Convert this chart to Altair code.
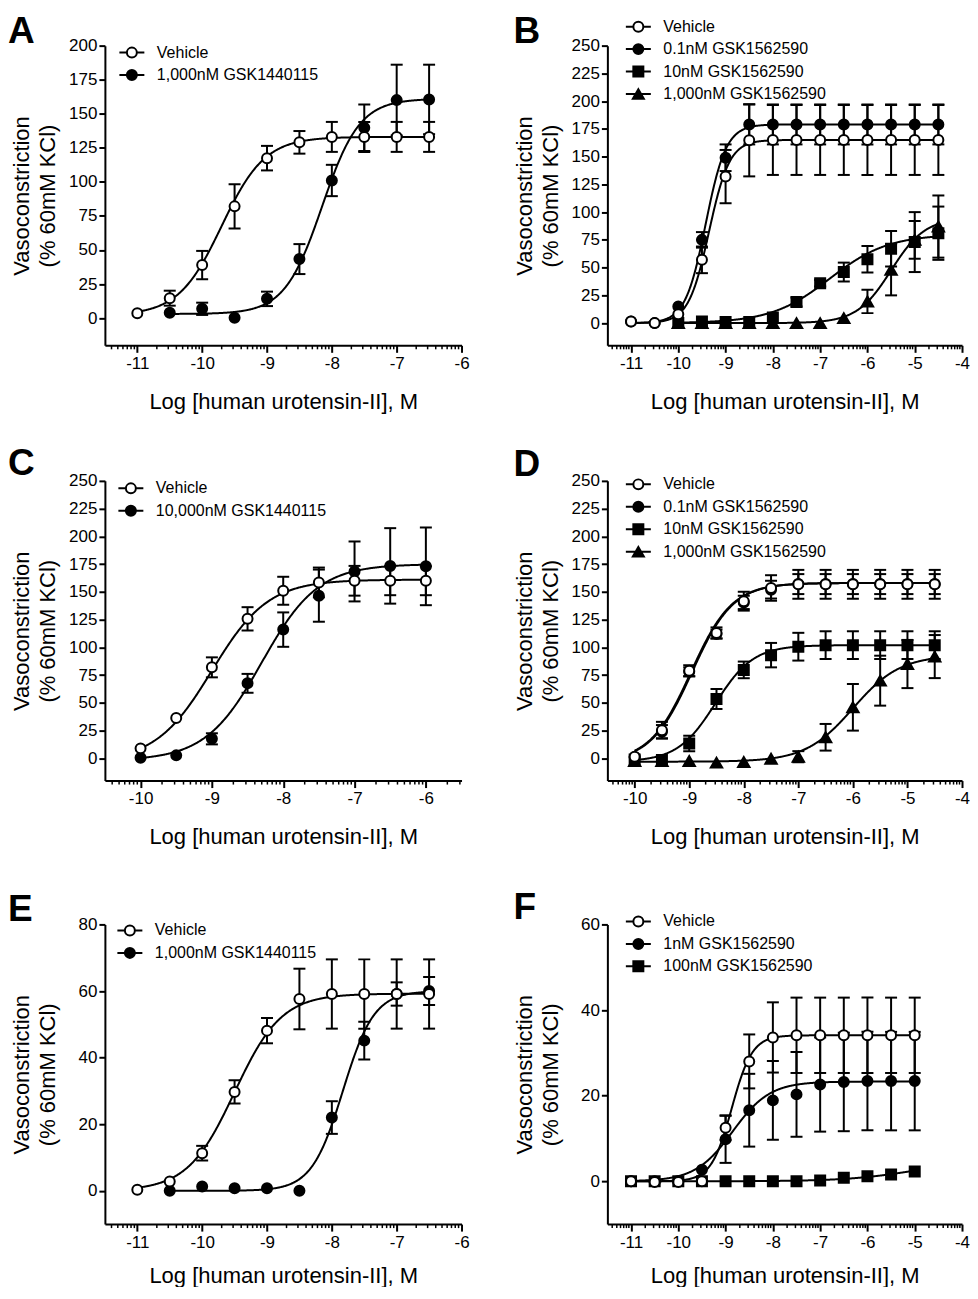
import math
import altair as alt
import pandas as pd

FONT = "Liberation Sans"
XTITLE = "Log [human urotensin-II], M"
YTITLE = ["Vasoconstriction", "(% 60mM KCl)"]
W_LEFT, W_RIGHT, H = 357, 355, 300

# ---------------- Panel A ----------------
A_LABELS = ["Vehicle", "1,000nM GSK1440115"]
A_VEH_X = [-11, -10.5, -10, -9.5, -9, -8.5, -8, -7.5, -7, -6.5]
A_VEH_Y = [3.6, 14.6, 38.9, 82, 117.4, 129, 133, 133, 133, 133]
A_VEH_E = [0, 5.5, 10.4, 16.3, 9, 8.3, 11, 11, 11, 11]
A_ANT_X = [-10.5, -10, -9.5, -9, -8.5, -8, -7.5, -7, -6.5]
A_ANT_Y = [3.9, 6.8, 0.2, 14.1, 43.3, 101, 139.7, 160, 160.5]
A_ANT_E = [0, 4.5, 0, 5.3, 11, 11.5, 17, 26, 25.5]
# fitted curve: bottom, top, logEC50, hill slope, first x, last x
A_VEH_FIT = [2, 133, -9.7, 1.3, -11, -6.5]
A_ANT_FIT = [3, 161, -8.15, 1.5, -10.5, -6.5]

# ---------------- Panel B ----------------
B_LABELS = ["Vehicle", "0.1nM GSK1562590", "10nM GSK1562590", "1,000nM GSK1562590"]
B_X = [-11, -10.5, -10, -9.5, -9, -8.5, -8, -7.5, -7, -6.5, -6, -5.5, -5, -4.5]
B_VEH_Y = [1.5, 0, 8, 57, 132, 164.7, 165, 165, 165, 165, 165, 165, 165, 165]
B_VEH_E = [0, 0, 0, 12, 24, 32.5, 31.5, 31.5, 31.5, 31.5, 31.5, 31.5, 31.5, 31.5]
B_P01_Y = [1.5, 0, 15, 75, 149, 179, 179, 179, 179, 179, 179, 179, 179, 179]
B_P01_E = [0, 0, 0, 7, 12, 18, 18, 18, 18, 18, 18, 18, 18, 18]
B_P10_X = [-10, -9.5, -9, -8.5, -8, -7.5, -7, -6.5, -6, -5.5, -5, -4.5]
B_P10_Y = [0, 1.5, 1, 1, 5, 19, 36, 46, 57.5, 67, 73, 81]
B_P10_E = [0, 0, 0, 0, 0, 4, 3, 8.5, 12, 16, 27, 24]
B_P1000_X = [-10, -9.5, -9, -8.5, -8, -7.5, -7, -6.5, -6, -5.5, -5, -4.5]
B_P1000_Y = [0, 0, 0, 0, 0, 0, 0, 4.5, 19.5, 48, 75, 87]
B_P1000_E = [0, 0, 0, 0, 0, 0, 0, 0, 10.5, 23, 17, 28]
B_VEH_FIT = [0, 165, -9.35, 2.0, -11, -4.5]
B_P01_FIT = [0, 179, -9.42, 2.0, -11, -4.5]
B_P10_FIT = [0, 80, -6.8, 0.7, -10, -4.5]
B_P1000_FIT = [0, 95, -5.5, 1.2, -10, -4.5]

# ---------------- Panel C ----------------
C_LABELS = ["Vehicle", "10,000nM GSK1440115"]
C_X = [-10, -9.5, -9, -8.5, -8, -7.5, -7, -6.5, -6]
C_VEH_Y = [9, 36.4, 82, 125.7, 151, 158.5, 160, 160, 160]
C_VEH_E = [0, 0, 9, 10.5, 12.6, 13.4, 13.4, 13, 13]
C_ANT_Y = [0.6, 2.7, 17.6, 67.6, 116, 146.6, 168.4, 173.4, 173]
C_ANT_E = [0, 0, 5, 8.5, 15.5, 23.5, 27, 34, 35]
C_VEH_FIT = [-3, 161, -9.0, 1.1, -10, -6]
C_ANT_FIT = [-2, 175, -8.3, 1.1, -10, -6]

# ---------------- Panel D ----------------
D_LABELS = ["Vehicle", "0.1nM GSK1562590", "10nM GSK1562590", "1,000nM GSK1562590"]
D_X = [-10, -9.5, -9, -8.5, -8, -7.5, -7, -6.5, -6, -5.5, -5, -4.5]
D_VEH_Y = [1.5, 25.4, 78.9, 113, 141.6, 153.5, 156.8, 156.8, 156.8, 156.8, 156.8, 156.8]
D_VEH_E = [0, 7.5, 5, 5, 8.5, 11.5, 13, 13, 13, 13, 13, 13]
D_P01_Y = [1.0, 24, 78, 112, 140.5, 152, 157, 157, 157, 157, 157, 157]
D_P01_E = [0, 6, 4, 4, 6, 8, 9, 9, 9, 9, 9, 9]
D_P10_Y = [-1, -1.5, 13.4, 53.5, 79.7, 93, 100.6, 102, 102, 102, 102, 102]
D_P10_E = [0, 0, 7, 9, 7.5, 11, 12.5, 12.5, 12.5, 12.5, 12.5, 12.5]
D_P1000_Y = [-2.4, -2.4, -2.4, -3.9, -3.3, -0.3, 1.5, 19, 46, 70, 85, 91.7]
D_P1000_E = [0, 0, 0, 0, 0, 0, 5, 12, 21, 22.5, 21.7, 19.4]
D_VEH_FIT = [-3, 158, -8.95, 1.15, -10, -4.5]
D_P01_FIT = [-3, 158, -8.97, 1.15, -10, -4.5]
D_P10_FIT = [-3, 102, -8.52, 1.25, -10, -4.5]
D_P1000_FIT = [-3, 93, -6.0, 1.0, -10, -4.5]

# ---------------- Panel E ----------------
E_LABELS = ["Vehicle", "1,000nM GSK1440115"]
E_VEH_X = [-11, -10.5, -10, -9.5, -9, -8.5, -8, -7.5, -7, -6.5]
E_VEH_Y = [0.3, 2.8, 11.3, 29.7, 48.1, 57.6, 59.1, 59.1, 59.1, 59.1]
E_VEH_E = [0, 0, 2.2, 3.5, 3.8, 9.1, 10.4, 10.4, 10.4, 10.4]
E_ANT_X = [-10.5, -10, -9.5, -9, -8.5, -8, -7.5, -7, -6.5]
E_ANT_Y = [0, 1.3, 0.8, 0.8, 0, 22, 45.1, 59.1, 60]
E_ANT_E = [0, 0, 0, 0, 0, 4.9, 5.7, 3.5, 4.2]
E_VEH_FIT = [0, 59.2, -9.5, 1.2, -11, -6.5]
E_ANT_FIT = [0, 60, -7.83, 1.8, -10.5, -6.5]

# ---------------- Panel F ----------------
F_LABELS = ["Vehicle", "1nM GSK1562590", "100nM GSK1562590"]
F_X = [-11, -10.5, -10, -9.5, -9, -8.5, -8, -7.5, -7, -6.5, -6, -5.5, -5]
F_VEH_Y = [0, -0.15, -0.15, 0, 12.5, 28, 33.6, 34.1, 34.1, 34.1, 34.1, 34.1, 34.1]
F_VEH_E = [0, 0, 0, 0, 2.9, 6.3, 8.2, 8.8, 8.8, 8.8, 8.8, 8.8, 8.8]
F_P1_Y = [0, 0, 0, 2.7, 9.8, 16.6, 18.9, 20.3, 22.6, 23.2, 23.4, 23.4, 23.4]
F_P1_E = [0, 0, 0, 0, 5.5, 8.5, 9.2, 9.9, 11, 11.5, 11.5, 11.5, 11.5]
F_P100_Y = [0, 0, 0, 0, 0, 0, 0, 0, 0.2, 0.8, 1.2, 1.6, 2.3]
F_P100_E = [0, 0, 0, 0, 0, 0, 0, 0, 0, 0, 0, 0, 0]
F_VEH_FIT = [0, 34.1, -8.87, 2.0, -11, -5]
F_P1_FIT = [0, 23.3, -8.85, 1.1, -11, -5]
F_P100_FIT = [0, 5, -5.0, 0.6, -11, -5]

# ---------------- styling ----------------
MARKERS = {
    "open": dict(shape="circle", fill="white", size=100),
    "dot": dict(shape="circle", fill="black", size=100),
    "square": dict(shape="square", fill="black", size=100),
    "triangle": dict(shape="triangle-up", fill="black", size=130),
}
CIRC = ("M-1,0C-1,-0.5523,-0.5523,-1,0,-1C0.5523,-1,1,-0.5523,1,0"
        "C1,0.5523,0.5523,1,0,1C-0.5523,1,-1,0.5523,-1,0Z")
LEG_PATHS = {
    "open": "M-2.5,0L-1,0M1,0L2.5,0" + CIRC,
    "dot": "M-2.5,0L-1,0M1,0L2.5,0" + CIRC,
    "square": "M-2.5,0L-1,0M1,0L2.5,0M-1,-1L1,-1L1,1L-1,1Z",
    "triangle": "M-2.5,0L-0.5,0M0.5,0L2.5,0M0,-0.95L1.1,0.95L-1.1,0.95Z",
}


def minor_positions(lo, hi):
    out = []
    for d in range(math.floor(lo) - 1, math.ceil(hi) + 1):
        for k in range(2, 10):
            v = d + math.log10(k)
            if lo <= v <= hi:
                out.append(round(v, 5))
    return out


def panel(letter, series, xdom, ydom, xvals, yvals, leg_xy, let_xy, ytp, width, xtp=20):
    xs = alt.Scale(domain=xdom, nice=False, zero=False)
    ys = alt.Scale(domain=ydom, nice=False, zero=False)
    xaxis = alt.Axis(values=xvals, title=XTITLE, labelExpr="'' + datum.value",
                     grid=False, labelFlush=False, tickSize=7, tickWidth=2,
                     domainWidth=2, labelPadding=3, titlePadding=xtp)
    yaxis = alt.Axis(values=yvals, title=YTITLE, grid=False, tickSize=6,
                     tickWidth=2, domainWidth=2, labelPadding=2,
                     titlePadding=ytp, titleLineHeight=26)

    def X(f):
        return alt.X(f, type="quantitative", scale=xs, axis=xaxis)

    def Y(f):
        return alt.Y(f, type="quantitative", scale=ys, axis=yaxis)

    layers = []
    # fitted curves
    for s in series:
        b, t, ec, h, x0, x1 = s["fit"]
        expr = f"({b}) + (({t}) - ({b})) / (1 + pow(10, ({h}) * (({ec}) - datum.x)))"
        layers.append(
            alt.Chart(alt.sequence(x0, x1 + 0.005, 0.01, as_="x"))
            .transform_calculate(y=expr)
            .mark_line(color="black", strokeWidth=2)
            .encode(x=X("x"), y=Y("y"))
        )
    rows, caps = [], []
    for s in series:
        for x, y, e in zip(s["x"], s["y"], s["e"]):
            rows.append(dict(series=s["label"], x=x, y=y, lo=y - e, hi=y + e, e=e))
            if e > 0:
                caps.append(dict(x=x, v=y - e))
                caps.append(dict(x=x, v=y + e))
    df = pd.DataFrame(rows)
    dfe = df[df["e"] > 0]
    layers.append(
        alt.Chart(dfe).mark_rule(color="black", strokeWidth=2)
        .encode(x=X("x"), y=Y("lo"), y2=alt.Y2("hi"))
    )
    layers.append(
        alt.Chart(pd.DataFrame(caps)).mark_tick(orient="horizontal", size=12,
                                                thickness=2, color="black", opacity=1)
        .encode(x=X("x"), y=Y("v"))
    )
    for s in reversed(series):
        m = MARKERS[s["marker"]]
        layers.append(
            alt.Chart(df[df["series"] == s["label"]])
            .mark_point(shape=m["shape"], filled=True, fill=m["fill"], stroke="black",
                        strokeWidth=2, size=m["size"], opacity=1)
            .encode(x=X("x"), y=Y("y"))
        )
    # legend (line + marker symbols)
    labels = [s["label"] for s in series]
    paths = [LEG_PATHS[s["marker"]] for s in series]
    fills = [MARKERS[s["marker"]]["fill"] for s in series]
    sx, sy = leg_xy
    leg = alt.Legend(title=None, orient="none", legendX=sx - 6, legendY=sy - 8,
                     labelFont=FONT, labelFontSize=16, labelColor="black",
                     labelOffset=17, labelLimit=500, rowPadding=4.5,
                     symbolSize=100, symbolStrokeWidth=2, symbolStrokeColor="black",
                     padding=0)
    layers.append(
        alt.Chart(df).transform_filter("false")
        .mark_point(filled=True, size=100, stroke="black", strokeWidth=2, opacity=1)
        .encode(
            x=X("x"), y=Y("y"),
            shape=alt.Shape("series:N", scale=alt.Scale(domain=labels, range=paths), legend=leg),
            fill=alt.Fill("series:N", scale=alt.Scale(domain=labels, range=fills), legend=leg),
            stroke=alt.Stroke("series:N", scale=alt.Scale(domain=labels, range=["black"] * len(labels)), legend=leg),
        )
    )
    # minor log ticks on x axis
    layers.append(
        alt.Chart(pd.DataFrame({"x": minor_positions(xdom[0], xdom[1])}))
        .mark_rule(color="black", strokeWidth=1.5)
        .encode(x=X("x"), y=alt.value(H), y2=alt.value(H + 4))
    )
    # panel letter
    lx, ly = let_xy
    layers.append(
        alt.Chart(pd.DataFrame({"t": [letter]}))
        .mark_text(align="left", baseline="alphabetic", font=FONT, fontSize=37,
                   fontWeight="bold", color="black")
        .encode(text="t:N", x=alt.value(lx), y=alt.value(ly))
    )
    return (alt.layer(*layers)
            .resolve_scale(shape="independent", fill="independent", stroke="independent")
            .properties(width=width, height=H))


def S(label, x, y, e, fit, marker):
    return dict(label=label, x=x, y=y, e=e, fit=fit, marker=marker)


pA = panel("A", [S(A_LABELS[0], A_VEH_X, A_VEH_Y, A_VEH_E, A_VEH_FIT, "open"),
                 S(A_LABELS[1], A_ANT_X, A_ANT_Y, A_ANT_E, A_ANT_FIT, "dot")],
           [-11.5, -6], [-20, 200], [-11, -10, -9, -8, -7, -6], list(range(0, 201, 25)),
           (25, 7), (-97, -3), 9, W_LEFT)
pB = panel("B", [S(B_LABELS[0], B_X, B_VEH_Y, B_VEH_E, B_VEH_FIT, "open"),
                 S(B_LABELS[1], B_X, B_P01_Y, B_P01_E, B_P01_FIT, "dot"),
                 S(B_LABELS[2], B_P10_X, B_P10_Y, B_P10_E, B_P10_FIT, "square"),
                 S(B_LABELS[3], B_P1000_X, B_P1000_Y, B_P1000_E, B_P1000_FIT, "triangle")],
           [-11.5, -4], [-20, 250], [-11, -10, -9, -8, -7, -6, -5, -4], list(range(0, 251, 25)),
           (29, -19), (-94, -3), 9, W_RIGHT)
pC = panel("C", [S(C_LABELS[0], C_X, C_VEH_Y, C_VEH_E, C_VEH_FIT, "open"),
                 S(C_LABELS[1], C_X, C_ANT_Y, C_ANT_E, C_ANT_FIT, "dot")],
           [-10.5, -5.5], [-20, 250], [-10, -9, -8, -7, -6], list(range(0, 251, 25)),
           (24, 7.5), (-97, -6), 9, W_LEFT)
pD = panel("D", [S(D_LABELS[0], D_X, D_VEH_Y, D_VEH_E, D_VEH_FIT, "open"),
                 S(D_LABELS[1], D_X, D_P01_Y, D_P01_E, D_P01_FIT, "dot"),
                 S(D_LABELS[2], D_X, D_P10_Y, D_P10_E, D_P10_FIT, "square"),
                 S(D_LABELS[3], D_X, D_P1000_Y, D_P1000_E, D_P1000_FIT, "triangle")],
           [-10.5, -4], [-20, 250], [-10, -9, -8, -7, -6, -5, -4], list(range(0, 251, 25)),
           (29, 3.5), (-94, -5), 9, W_RIGHT)
pE = panel("E", [S(E_LABELS[0], E_VEH_X, E_VEH_Y, E_VEH_E, E_VEH_FIT, "open"),
                 S(E_LABELS[1], E_ANT_X, E_ANT_Y, E_ANT_E, E_ANT_FIT, "dot")],
           [-11.5, -6], [-10, 80], [-11, -10, -9, -8, -7, -6], [0, 20, 40, 60, 80],
           (23, 6), (-97, -3), 18.5, W_LEFT, 15)
pF = panel("F", [S(F_LABELS[0], F_X, F_VEH_Y, F_VEH_E, F_VEH_FIT, "open"),
                 S(F_LABELS[1], F_X, F_P1_Y, F_P1_E, F_P1_FIT, "dot"),
                 S(F_LABELS[2], F_X, F_P100_Y, F_P100_E, F_P100_FIT, "square")],
           [-11.5, -4], [-10, 60], [-11, -10, -9, -8, -7, -6, -5, -4], [0, 20, 40, 60],
           (29, -3), (-94, -5), 18.5, W_RIGHT, 15)

RES = dict(x="independent", y="independent", shape="independent",
           fill="independent", stroke="independent")
row1 = alt.hconcat(pA, pB, spacing=146, bounds="flush").resolve_scale(**RES)
row2 = alt.hconcat(pC, pD, spacing=146, bounds="flush").resolve_scale(**RES)
row3 = alt.hconcat(pE, pF, spacing=146, bounds="flush").resolve_scale(**RES)
top = alt.vconcat(row1, row2, spacing=32.7, bounds="full").resolve_scale(**RES)
chart = (
    alt.vconcat(top, row3, spacing=41.7, bounds="full")
    .resolve_scale(**RES)
    .properties(padding={"left": 0, "top": 4, "right": 0, "bottom": 0})
    .configure_view(stroke=None)
    .configure_axis(labelFont=FONT, titleFont=FONT, labelFontSize=17, titleFontSize=22,
                    labelColor="black", titleColor="black", domainColor="black",
                    tickColor="black", titleFontWeight="normal")
)

chart.save("out.html", embed_options={"renderer": "svg", "actions": False})
